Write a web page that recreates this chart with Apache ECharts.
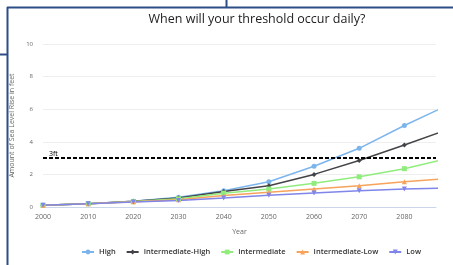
<!DOCTYPE html>
<html>
<head>
<meta charset="utf-8">
<script src="https://cdn.jsdelivr.net/npm/echarts@6/dist/echarts.min.js"></script>
<style>
  html, body { margin: 0; padding: 0; background: #fff; }
  #chart { width: 453px; height: 265px; }
</style>
</head>
<body>
<div id="chart"></div>
<script>
// --------------------------------------------------------------
// Data (feet of sea level rise)
// --------------------------------------------------------------
const years = [2000, 2010, 2020, 2030, 2040, 2050, 2060, 2070, 2080, 2090];
const high = [0.1, 0.2, 0.35, 0.6, 1.0, 1.55, 2.5, 3.6, 5.0, 6.3];
const intermediateHigh = [0.1, 0.2, 0.35, 0.55, 0.95, 1.3, 2.0, 2.85, 3.8, 4.8];
const intermediate = [0.1, 0.2, 0.33, 0.5, 0.85, 1.1, 1.45, 1.85, 2.35, 3.0];
const intermediateLow = [0.1, 0.2, 0.32, 0.45, 0.7, 0.9, 1.1, 1.3, 1.55, 1.76];
const low = [0.1, 0.2, 0.3, 0.4, 0.55, 0.72, 0.86, 1.0, 1.1, 1.17];
const threshold = 3;
const thresholdLabel = "3ft";

const FONT = "Open Sans";
const FRAME = "#2c4d85";

function pairs(vals) {
  return years.map((y, i) => [y, vals[i]]);
}

function makeSeries(name, vals, color, symbol) {
  return {
    name: name,
    type: "line",
    data: pairs(vals),
    symbol: symbol,
    symbolSize: 5,
    showAllSymbol: true,
    clip: true,
    lineStyle: {color: color, width: 1.5},
    itemStyle: {color: color},
    emphasis: {disabled: true},
  };
}

const series = [
  makeSeries("High", high, "#7cb5ec", "circle"),
  makeSeries("Intermediate-High", intermediateHigh, "#434348", "diamond"),
  makeSeries("Intermediate", intermediate, "#90ed7d", "rect"),
  makeSeries("Intermediate-Low", intermediateLow, "#f7a35c", "triangle"),
  makeSeries("Low", low, "#8085e9", "path://M0,0 L10,0 L5,10 Z"),
];

// threshold line
series[0].markLine = {
  silent: true,
  symbol: "none",
  data: [{yAxis: threshold}],
  lineStyle: {color: "#000", type: [4, 2], width: 2},
  label: {
    position: "insideStartTop",
    formatter: thresholdLabel,
    fontSize: 7,
    color: "#000",
    fontFamily: FONT,
    distance: [6, 1],
  },
};

// frame lines from the screenshot
const frame = [
  {x1: 7, y1: 7.5, x2: 453, y2: 7.5},
  {x1: 7.5, y1: 7, x2: 7.5, y2: 265},
  {x1: 226.5, y1: 0, x2: 226.5, y2: 7},
  {x1: 0, y1: 54.5, x2: 7, y2: 54.5},
].map((s) => ({
  type: "line",
  shape: s,
  style: {stroke: FRAME, lineWidth: 2},
  silent: true,
}));

const chart = echarts.init(document.getElementById("chart"), null, {renderer: "canvas"});

chart.setOption({
  animation: false,
  backgroundColor: "#fff",
  textStyle: {fontFamily: FONT},
  title: {
    text: "When will your threshold occur daily?",
    left: 252,
    textAlign: "center",
    top: 8,
    textStyle: {fontSize: 12.5, fontWeight: "normal", color: "#222", fontFamily: FONT},
  },
  grid: {left: 43, right: 17, top: 44, bottom: 58, containLabel: false},
  xAxis: {
    type: "value",
    min: 2000,
    max: 2087,
    interval: 10,
    name: "Year",
    nameLocation: "middle",
    nameGap: 21,
    nameTextStyle: {fontSize: 7, color: "#666", fontFamily: FONT},
    axisLine: {show: true, lineStyle: {color: "#ccd6eb"}},
    axisTick: {show: false},
    splitLine: {show: false},
    axisLabel: {
      fontSize: 7,
      color: "#666",
      fontFamily: FONT,
      margin: 6,
      showMaxLabel: false,
      formatter: (v) => String(v),
    },
  },
  yAxis: {
    type: "value",
    min: 0,
    max: 10,
    interval: 2,
    name: "Amount of Sea Level Rise in feet",
    nameLocation: "middle",
    nameGap: 26,
    nameTextStyle: {fontSize: 7, color: "#666", fontFamily: FONT},
    axisLine: {show: false},
    axisTick: {show: false},
    splitLine: {lineStyle: {color: "#eeeeee", width: 1}},
    axisLabel: {fontSize: 6, color: "#666", fontFamily: FONT, margin: 10},
  },
  legend: {
    bottom: 4,
    left: 76,
    width: 377,
    itemGap: 10,
    itemWidth: 12,
    itemHeight: 6,
    textStyle: {fontSize: 7.5, fontWeight: 600, color: "#333", fontFamily: FONT},
    data: series.map((s) => s.name),
  },
  graphic: frame,
  series: series,
});
</script>
</body>
</html>
